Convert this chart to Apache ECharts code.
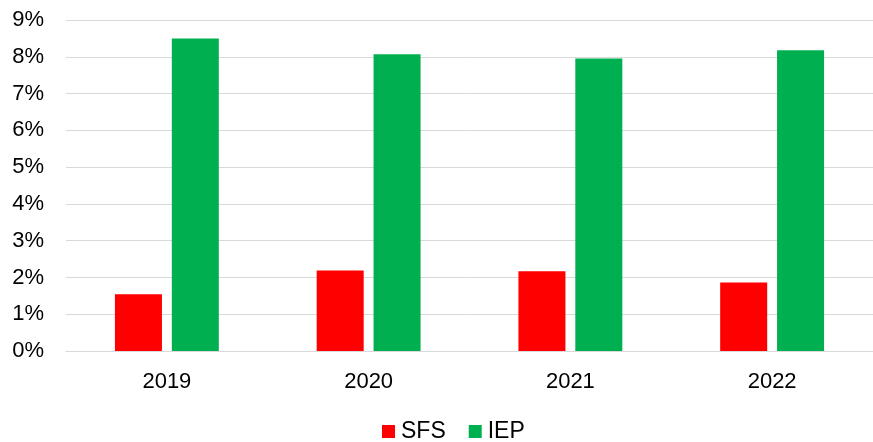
<!DOCTYPE html>
<html>
<head>
<meta charset="utf-8">
<script src="https://cdn.jsdelivr.net/npm/echarts@6/dist/echarts.min.js"></script>
<style>
html,body{margin:0;padding:0;background:#fff;}
#main{width:873px;height:442px;}
</style>
</head>
<body>
<div id="main"></div>
<script>
var years = ['2019', '2020', '2021', '2022'];
var sfsValues = [1.54, 2.19, 2.17, 1.86];
var iepValues = [8.50, 8.07, 7.95, 8.18];

var chart = echarts.init(document.getElementById('main'));
chart.setOption({
	animation: false,
	textStyle: { fontFamily: 'Liberation Sans, Arial, sans-serif' },
	grid: { left: 66, right: 0, top: 20, bottom: 91 },
	legend: {
		top: 420,
		left: 382,
		padding: 0,
		itemWidth: 13,
		itemHeight: 13,
		itemGap: 23,
		icon: 'rect',
		textStyle: { fontSize: 23, color: '#000', padding: [0, 0, 0, 1] },
		data: ['SFS', 'IEP']
	},
	xAxis: {
		type: 'category',
		data: years,
		axisTick: { show: false },
		axisLine: { lineStyle: { color: '#d9d9d9', width: 1 } },
		axisLabel: { fontSize: 22, color: '#000', margin: 20 }
	},
	yAxis: {
		type: 'value',
		min: 0,
		max: 9,
		interval: 1,
		axisLabel: { fontSize: 22, color: '#000', margin: 22, formatter: '{value}%' },
		splitLine: { lineStyle: { color: '#d9d9d9', width: 1 } },
		axisLine: { show: false },
		axisTick: { show: false }
	},
	series: [
		{
			name: 'SFS',
			type: 'bar',
			data: sfsValues,
			barWidth: '23.3%',
			barGap: '21%',
			itemStyle: { color: '#ff0000' }
		},
		{
			name: 'IEP',
			type: 'bar',
			data: iepValues,
			barWidth: '23.3%',
			itemStyle: { color: '#00b050' }
		}
	]
});
</script>
</body>
</html>
